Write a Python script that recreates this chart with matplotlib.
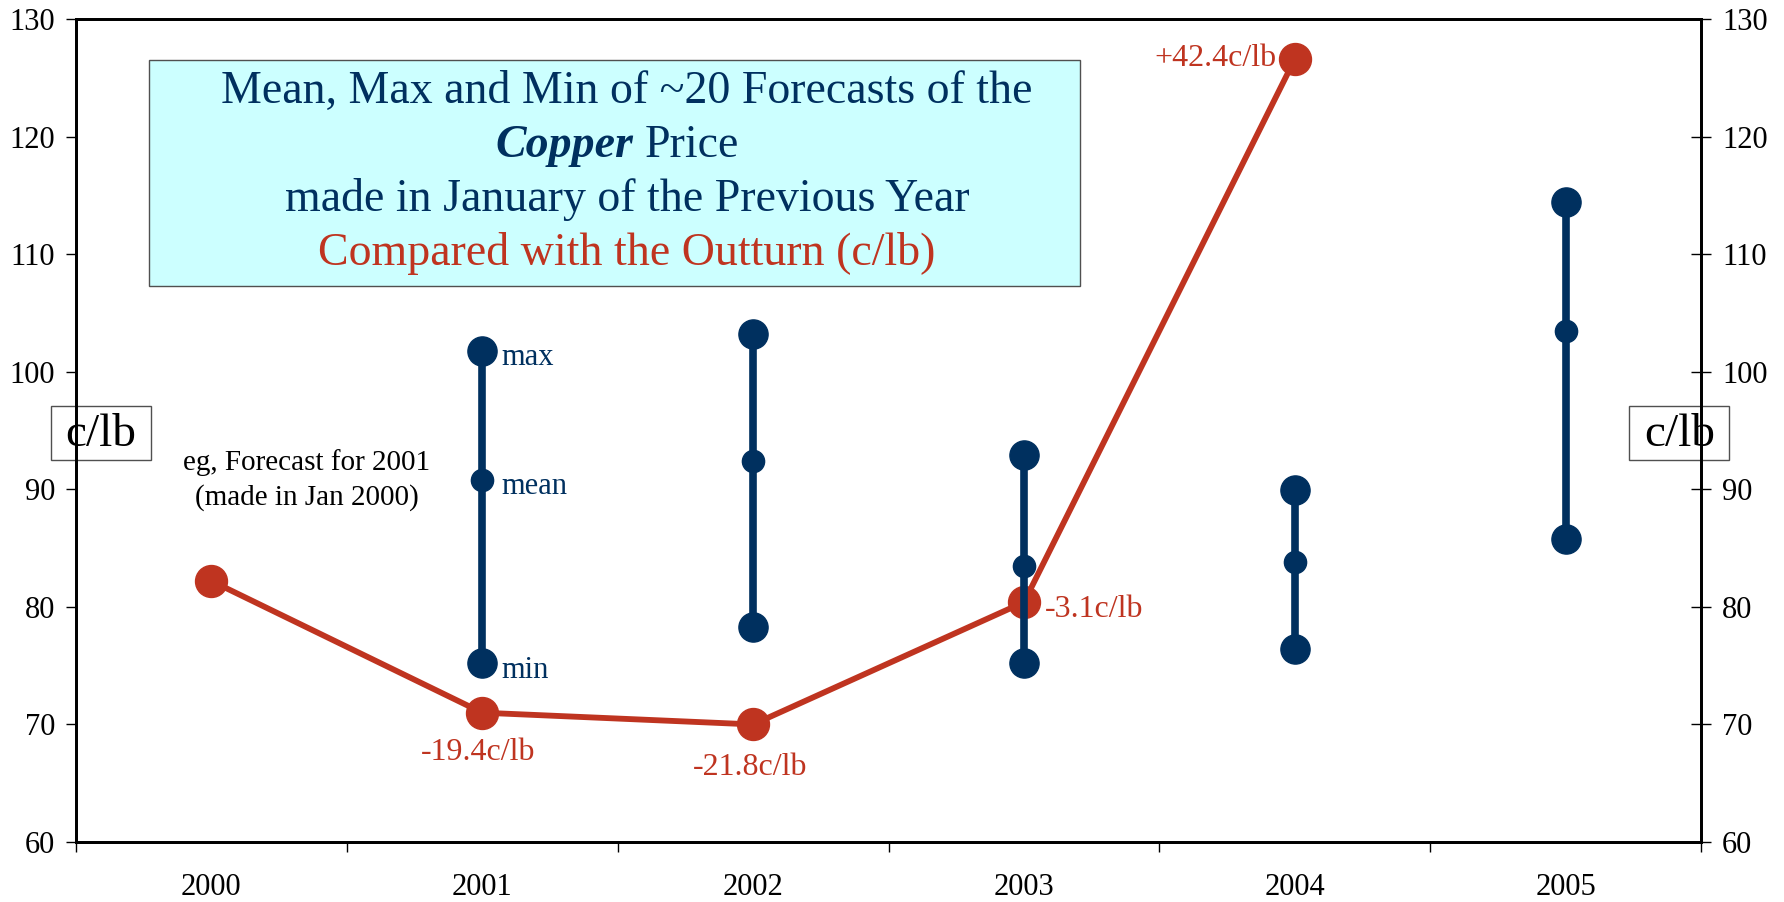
"""Copper price forecasts vs outturn chart."""

import matplotlib.pyplot as plt
from matplotlib.patches import Rectangle

NAVY = "#00305F"
RED = "#BF3420"
BOX_FILL = "#CCFFFF"

plt.rcParams["font.family"] = ["Liberation Serif", "DejaVu Serif"]

# data ---------------------------------------------------------------------------
years = ["2000", "2001", "2002", "2003", "2004", "2005"]

# outturn (actual average price, c/lb), 2000-2004
outturn_years = ["2000", "2001", "2002", "2003", "2004"]
outturn = [82.2, 71.0, 70.0, 80.4, 126.6]

# forecasts made in January of previous year, 2001-2005
forecast_years = ["2001", "2002", "2003", "2004", "2005"]
fc_max = [101.8, 103.2, 92.9, 89.9, 114.4]
fc_mean = [90.8, 92.4, 83.5, 83.8, 103.5]
fc_min = [75.2, 78.3, 75.2, 76.4, 85.8]

# forecast error labels (outturn minus mean forecast)
error_years = ["2001", "2002", "2003", "2004"]
error_labels = ["-19.4c/lb", "-21.8c/lb", "-3.1c/lb", "+42.4c/lb"]

y_ticks = [60, 70, 80, 90, 100, 110, 120, 130]


def pos(year):
    return years.index(year)


fig = plt.figure(figsize=(17.84, 9.02), dpi=100)
ax = fig.add_axes([0.0426, 0.0665, 0.911, 0.9125])

# outturn line
ax.plot(
    [pos(y) for y in outturn_years],
    outturn,
    color=RED,
    lw=4.2,
    marker="o",
    markersize=23,
    zorder=3,
)

# forecast ranges
for yr, hi, mid, lo in zip(forecast_years, fc_max, fc_mean, fc_min):
    x = pos(yr)
    ax.plot([x, x], [lo, hi], color=NAVY, lw=5.5, zorder=4, solid_capstyle="butt")
    ax.plot([x, x], [lo, hi], ls="none", marker="o", markersize=21, color=NAVY, zorder=5)
    ax.plot([x], [mid], ls="none", marker="o", markersize=16, color=NAVY, zorder=5)

# max / mean / min labels on the 2001 range
x01 = pos("2001")
for val, name in zip([fc_max[0], fc_mean[0], fc_min[0]], ["max", "mean", "min"]):
    ax.annotate(name, (x01, val), xytext=(14, -5), textcoords="offset points",
                ha="left", va="center", color=NAVY, fontsize=22)

# error labels next to outturn points
offsets = {
    "2001": ((-3, -29), "center"),
    "2002": ((-2, -31), "center"),
    "2003": ((15, -5), "left"),
    "2004": ((-13, 0), "right"),
}
for yr, label in zip(error_years, error_labels):
    (dx, dy), ha = offsets[yr]
    ax.annotate(label, (pos(yr), outturn[outturn_years.index(yr)]), xytext=(dx, dy),
                textcoords="offset points", ha=ha, va="center", color=RED, fontsize=23)

ax.text(0.353, 90.8, "eg, Forecast for 2001\n(made in Jan 2000)", ha="center",
        va="center", fontsize=21, linespacing=1.4, color="black")

# title box
ax.add_patch(Rectangle((0.045, 0.6756), 0.573, 0.2744, transform=ax.transAxes,
                       facecolor=BOX_FILL, edgecolor="#505050", lw=1, zorder=2))
tfs = 33
ax.text(0.339, 0.911, "Mean, Max and Min of ~20 Forecasts of the", transform=ax.transAxes,
        ha="center", va="center", fontsize=tfs, color=NAVY, zorder=3)
ax.text(0.343, 0.846, "Copper", transform=ax.transAxes, ha="right", va="center",
        fontsize=tfs, color=NAVY, fontweight="bold", fontstyle="italic", zorder=3)
ax.text(0.350, 0.846, "Price", transform=ax.transAxes, ha="left", va="center",
        fontsize=tfs, color=NAVY, zorder=3)
ax.text(0.339, 0.781, "made in January of the Previous Year", transform=ax.transAxes,
        ha="center", va="center", fontsize=tfs, color=NAVY, zorder=3)
ax.text(0.339, 0.715, "Compared with the Outturn (c/lb)", transform=ax.transAxes,
        ha="center", va="center", fontsize=tfs, color=RED, zorder=3)

# unit boxes on both sides
for x0 in (-0.0154, 0.9557):
    ax.add_patch(Rectangle((x0, 0.464), 0.0615, 0.066, transform=ax.transAxes,
                           facecolor="white", edgecolor="#505050", lw=1,
                           zorder=1.5, clip_on=False))
    ax.text(x0 + 0.0308, 0.495, "c/lb", transform=ax.transAxes, ha="center",
            va="center", fontsize=34, zorder=1.6, clip_on=False)

# axes
ax.set_xlim(-0.5, len(years) - 0.5)
ax.set_ylim(60, 130)
ax.set_yticks(y_ticks)
ax.tick_params(axis="y", direction="out", length=7, width=1, labelsize=22, pad=8)

ax.set_xticks([i - 0.5 for i in range(len(years) + 1)])
ax.set_xticklabels([])
ax.set_xticks(range(len(years)), minor=True)
ax.set_xticklabels(years, minor=True)
ax.tick_params(axis="x", which="major", direction="out", length=7, width=1)
ax.tick_params(axis="x", which="minor", length=0, labelsize=22, pad=22)

for spine in ax.spines.values():
    spine.set_linewidth(2)
    spine.set_color("black")
    spine.set_zorder(6)

ax2 = ax.twinx()
ax2.set_ylim(60, 130)
ax2.set_yticks(y_ticks)
ax2.tick_params(axis="y", direction="inout", length=14, width=1, labelsize=22, pad=8)
for spine in ax2.spines.values():
    spine.set_linewidth(2)

fig.savefig("out.png", dpi=100)
